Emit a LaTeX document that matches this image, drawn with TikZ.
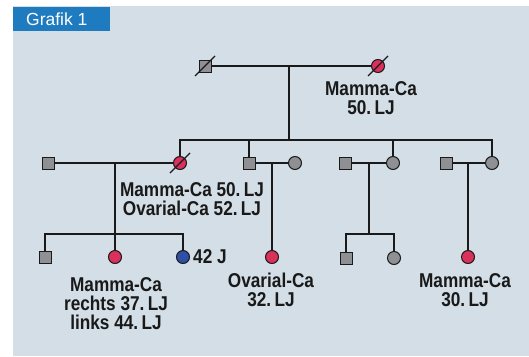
\documentclass[tikz,border=0pt]{standalone}
\usepackage{fontspec}
\setmainfont{Liberation Sans}
\newfontfamily\lblfont{Liberation Sans}[FakeStretch=0.86]
\usetikzlibrary{calc}
\definecolor{panel}{HTML}{D3DEE6}
\definecolor{tabblue}{HTML}{1F7BBF}
\definecolor{affred}{HTML}{D9315C}
\definecolor{carblue}{HTML}{2F4EA6}
\definecolor{symgray}{HTML}{8F9093}
\definecolor{linedark}{HTML}{1A1A1A}

\begin{document}
\begin{tikzpicture}[x=1pt,y=-1pt,
 rel/.style={linedark, line width=1.7pt},
 male/.style={rectangle, draw=linedark, line width=1pt, fill=symgray, minimum size=12pt, inner sep=0},
 female/.style={circle, draw=linedark, line width=1pt, fill=symgray, minimum size=13pt, inner sep=0},
 aff/.style={fill=affred},
 slash/.style={linedark, line width=1.2pt},
 lbl/.style={font=\lblfont\bfseries\fontsize{20}{19}\selectfont, text=black!90, align=center, inner sep=0},
]
 %
 \useasboundingbox (0,0) rectangle (529,356);
 \fill[white] (0,0) rectangle (529,356);
 \fill[panel] (13,6) rectangle (529,356);
 \fill[tabblue] (13,7) rectangle (110,31);
 \node[font=\fontsize{17.5}{18}\selectfont, text=white, anchor=west, inner sep=0] (title) at (26,19) {Grafik 1};

 %
 \node[male] (gf) at (205,66) {};
 \node[female,aff] (gm) at (378,66) {};
 \draw[slash] ($(gf)+(-10,10)$) -- ($(gf)+(10,-10)$);
 \draw[slash] ($(gm)+(-10,10)$) -- ($(gm)+(10,-10)$);
 \coordinate (m1) at (289,66);
 \coordinate (s1) at (289,140);
 \node[lbl] (lgm) at (371,98) {Mamma-Ca\\50.\,LJ};

 %
 \node[male] (h1) at (48,163) {};
 \node[female,aff] (d1) at (180,163) {};
 \draw[slash] ($(d1)+(-10,10)$) -- ($(d1)+(10,-10)$);
 \node[male] (s2) at (249,163) {};
 \node[female] (w2) at (295,163) {};
 \node[male] (h3) at (345,163) {};
 \node[female] (d3) at (393,163) {};
 \node[male] (h4) at (446,163) {};
 \node[female] (d4) at (492,163) {};
 \node[lbl] (ld1) at (192,199) {Mamma-Ca 50.\,LJ\\Ovarial-Ca 52.\,LJ};

 %
 \node[male] (k1) at (45,257) {};
 \node[female,aff] (k2) at (115,257) {};
 \node[female,fill=carblue] (k3) at (183,257) {};
 \node[female,aff] (k4) at (272,257) {};
 \node[male] (k5) at (346,258) {};
 \node[female] (k6) at (394,258) {};
 \node[female,aff] (k7) at (468,257) {};
 \node[lbl,anchor=west] (lk3) at (193,257) {42 J};
 \node[lbl] (lk2) at (116,304) {Mamma-Ca\\rechts 37.\,LJ\\links 44.\,LJ};
 \node[lbl] (lk4) at (271,290) {Ovarial-Ca\\32.\,LJ};
 \node[lbl] (lk7) at (465,290) {Mamma-Ca\\30.\,LJ};

 %
 \coordinate (c1) at (115,163);
 \coordinate (c2) at (272,163);
 \coordinate (c3) at (369,163);
 \coordinate (c4) at (468,163);
 \coordinate (t1) at (115,234);
 \coordinate (t3) at (369,234);

 %
 \draw[rel] (gf) -- (gm);
 \draw[rel] (m1) -- (s1);
 \draw[rel] (d1.north) -- (d1 |- s1) -- (d4 |- s1) -- (d4.north);
 \draw[rel] (s2.north) -- (s2 |- s1);
 \draw[rel] (d3.north) -- (d3 |- s1);
 \foreach \a/\b in {h1/d1,s2/w2,h3/d3,h4/d4}{\draw[rel] (\a) -- (\b);}
 \draw[rel] (c1) -- (t1);
 \draw[rel] (k1.north) -- (k1 |- t1) -- (k3 |- t1) -- (k3.north);
 \draw[rel] (k2.north) -- (k2 |- t1);
 \draw[rel] (c2) -- (k4.north);
 \draw[rel] (c3) -- (t3);
 \draw[rel] (k5.north) -- (k5 |- t3) -- (k6 |- t3) -- (k6.north);
 \draw[rel] (c4) -- (k7.north);
\end{tikzpicture}
\end{document}
